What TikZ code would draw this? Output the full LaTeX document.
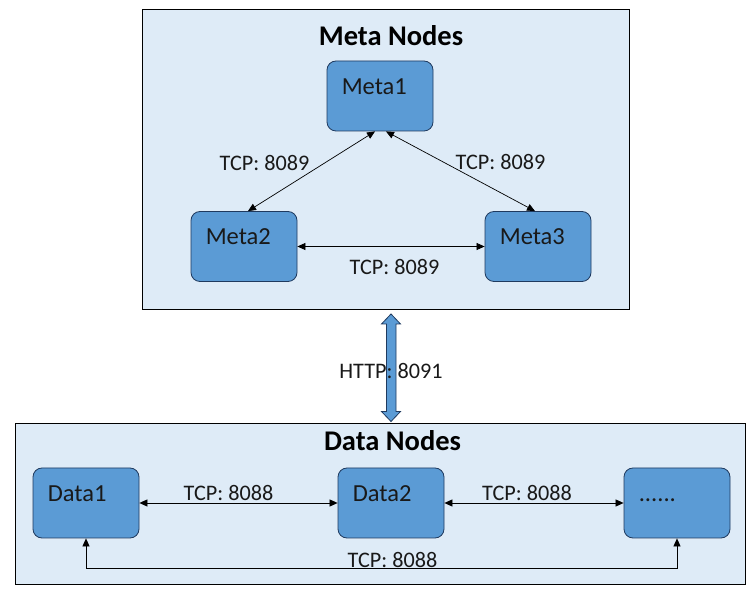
\documentclass[tikz,border=0pt]{standalone}
\usepackage{fontspec}
\setmainfont{Carlito}
\usepackage{xcolor}
\usetikzlibrary{arrows.meta,positioning,calc}
\definecolor{groupfill}{HTML}{DEEBF7}
\definecolor{nodefill}{HTML}{5B9BD5}
\definecolor{nodeline}{HTML}{1F3A5F}
\tikzset{>={Triangle[length=8pt,width=7pt]}}
\tikzset{
  group/.style={draw=black, fill=groupfill, line width=0.8pt},
  server/.style={draw=nodeline, fill=nodefill, line width=0.8pt,
    rounded corners=9pt, minimum width=106pt, minimum height=70pt},
  servername/.style={anchor=base west, inner sep=0pt, xshift=15pt, yshift=-33.5pt,
    font=\fontsize{24.5}{29}\selectfont, text=black!90},
  port/.style={font=\fontsize{22.2}{26}\selectfont, text=black!90, inner sep=1pt},
  link/.style={<->, line width=0.7pt}
}

\begin{document}
\begin{tikzpicture}[x=1pt,y=-1pt]
            \useasboundingbox (0,0) rectangle (756,593);

            % meta group
            \node [group,
              minimum width=487pt,
              minimum height=300pt
            ] (metagroup) at (385.5,159) {};
            \node [font=\bfseries\fontsize{28.5}{33}\selectfont,
              anchor=base
            ] (metatitle) at (391,45.7) {Meta Nodes};

            \node [server,
              label={[servername]north west:Meta1}
            ] (meta1) at (380,96) {};

            \node [server,
              label={[servername]north west:Meta2}
            ] (meta2) at (244,246.5) {};

            \node [server,
              label={[servername]north west:Meta3}
            ] (meta3) at (538,246.5) {};

            \draw[link] ([xshift=-5pt]meta1.south) -- ([xshift=4pt]meta2.north);
            \draw[link] ([xshift=6pt]meta1.south) -- ([xshift=-3pt]meta3.north);
            \draw[link] (meta2.east) -- (meta3.west);

            \node [port] (tcpleft) at (264.5,163) {TCP: 8089};
            \node [port] (tcpright) at (500.5,162) {TCP: 8089};
            \node [port] (tcpbottom) at (394.5,267) {TCP: 8089};

            % data group
            \node [group,
              minimum width=730pt,
              minimum height=161pt
            ] (datagroup) at (380,503.5) {};
            \node [font=\bfseries\fontsize{28.5}{33}\selectfont,
              anchor=base
            ] (datatitle) at (392.5,450.7) {Data Nodes};

            \node [server,
              label={[servername]north west:Data1}
            ] (data1) at (86,503) {};

            \node [server,
              label={[servername]north west:Data2}
            ] (data2) at (391,503) {};

            \node [server,
              label={[servername]north west:......}
            ] (dots) at (677,503) {};

            \draw[link] (data1.east) -- (data2.west);
            \draw[link] (data2.east) -- (dots.west);
            \draw[link] (data1.south) -- ++(0,29.5) -| (dots.south);

            \node [port] (tcpa) at (228.5,493) {TCP: 8088};
            \node [port] (tcpb) at (527,493) {TCP: 8088};
            \node [port] (tcpc) at (392.5,560) {TCP: 8088};

            % http link
            \coordinate (httptop) at (391,314);
            \coordinate (httpbot) at (391,421.5);
            \draw[draw=nodeline, fill=nodefill, line width=0.8pt]
              (httptop) -- ++(9.5,10) -- ++(-4.5,0) |- ($(httpbot)+(4.5,-10)$)
              -- ++(5,0) -- (httpbot) -- ++(-9.5,-10) -- ++(5,0)
              |- ($(httptop)+(-4.5,10)$) -- ++(-5,0) -- cycle;
            \node [port] (http) at (391,371) {HTTP: 8091};
          \end{tikzpicture}
\end{document}
